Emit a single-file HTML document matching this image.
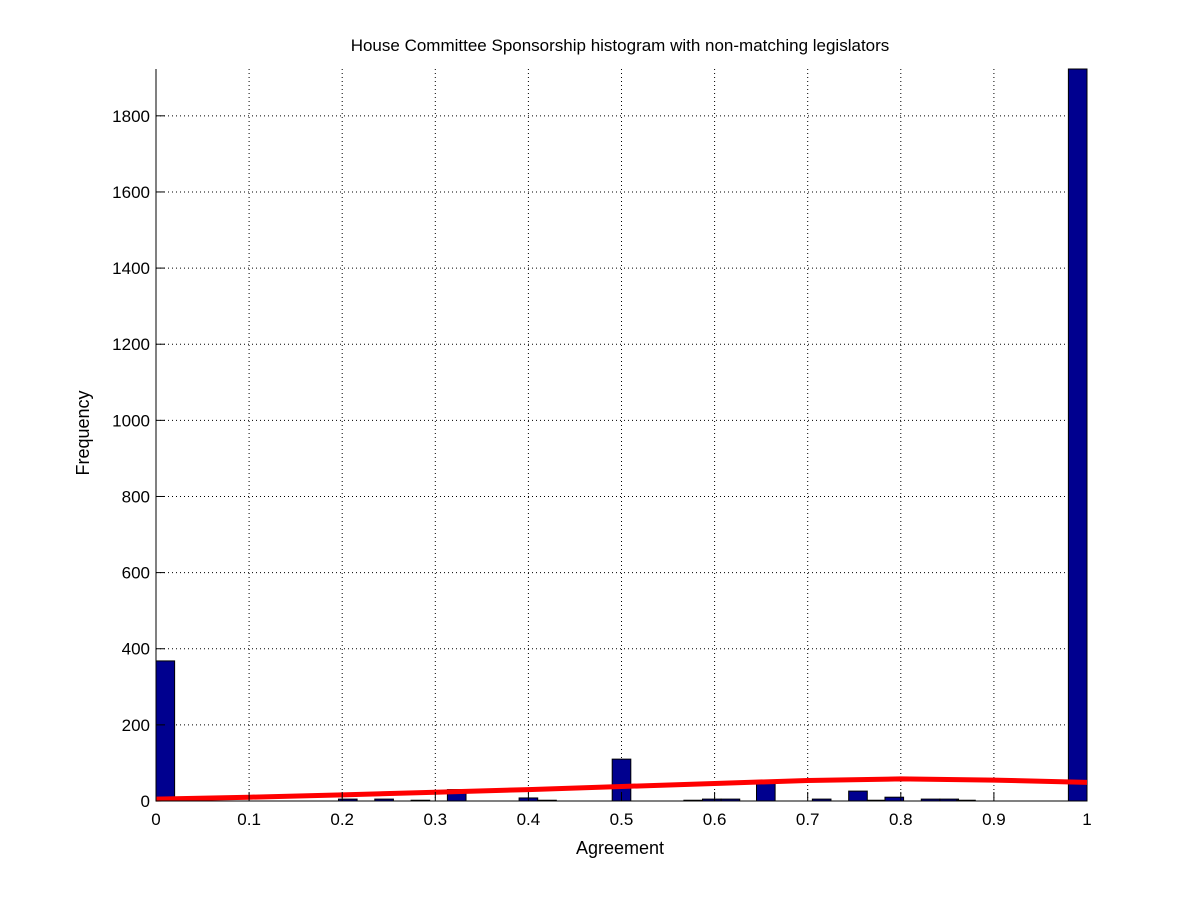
<!DOCTYPE html>
<html><head><meta charset="utf-8"><style>
body{margin:0;background:#fff;}
svg{display:block;font-family:"Liberation Sans",Arial,sans-serif;}
</style></head><body>
<svg id="chart" width="1200" height="900" viewBox="0 0 1200 900">
<rect width="1200" height="900" fill="#fff"/>
<g id="grid"></g>
<g id="bars"></g>
<g id="fit"></g>
<line x1="156" y1="69" x2="156" y2="801" stroke="#000"/>
<line x1="156" y1="801" x2="1087" y2="801" stroke="#000"/>
<g id="ticks"></g>
<text x="620" y="51" text-anchor="middle" font-size="17">House Committee Sponsorship histogram with non-matching legislators</text>
<text x="620" y="854" text-anchor="middle" font-size="18">Agreement</text>
<text transform="translate(89,433) rotate(-90)" text-anchor="middle" font-size="18">Frequency</text>
</svg>
<script>
const binCenters=[0.01,0.206,0.245,0.284,0.323,0.40,0.42,0.50,0.577,0.597,0.617,0.655,0.715,0.754,0.774,0.793,0.832,0.852,0.87,0.99];
const binCounts=[368,5,5,2,30,8,2,110,2,5,5,50,5,26,2,10,5,5,2,1923];
const fitX=[0,0.1,0.2,0.3,0.4,0.5,0.6,0.7,0.8,0.9,1.0];
const fitY=[5,10,16,23,30,38,46,54,58,55,49];
const xTicks=[0,0.1,0.2,0.3,0.4,0.5,0.6,0.7,0.8,0.9,1];
const yTicks=[0,200,400,600,800,1000,1200,1400,1600,1800];
const binWidth=0.02;
const X0=156,X1=1087,Y0=801,Y1=69,YMAX=1923;
const sx=v=>X0+v*(X1-X0);
const sy=v=>Y0-v/YMAX*(Y0-Y1);
const NS="http://www.w3.org/2000/svg";
function mk(tag,attrs,parent){const e=document.createElementNS(NS,tag);for(const k in attrs)e.setAttribute(k,attrs[k]);parent.appendChild(e);return e;}
const grid=document.getElementById('grid'),ticks=document.getElementById('ticks'),bars=document.getElementById('bars'),fit=document.getElementById('fit');
xTicks.forEach(t=>{const x=sx(t);
 if(t>0&&t<1){const g=mk('line',{x1:x,x2:x,y1:Y1,y2:Y0,stroke:'#000','stroke-dasharray':'1,3'},grid);
 
 }
 const a=mk('line',{x1:x,x2:x,y1:Y0,y2:Y0-9,stroke:'#000'},ticks);
 
 
 const l=mk('text',{x:x,y:Y0+24,'text-anchor':'middle','font-size':'17'},ticks);l.textContent=String(t);
 
 
});
yTicks.forEach(t=>{const y=sy(t);
 if(t>0){const g=mk('line',{x1:X0,x2:X1,y1:y,y2:y,stroke:'#000','stroke-dasharray':'1,3'},grid);
 
 }
 const a=mk('line',{x1:X0,x2:X0+9,y1:y,y2:y,stroke:'#000'},ticks);
 
 
 const l=mk('text',{x:X0-6,y:y+6,'text-anchor':'end','font-size':'17'},ticks);l.textContent=String(t);
 
 
});
binCenters.forEach((c,i)=>{const x=sx(c-binWidth/2),w=sx(c+binWidth/2)-x;const yt=Math.max(sy(binCounts[i]),Y1);
 const r=mk('rect',{x:x,y:yt,width:w,height:Y0-yt,fill:'#00008f',stroke:'#000','stroke-width':'1'},bars);
 
 
});
const pts=fitX.map((v,i)=>sx(v)+','+sy(fitY[i])).join(' ');
const pl=mk('polyline',{points:pts,fill:'none',stroke:'#ff0000','stroke-width':'5'},fit);


</script>
</body></html>
